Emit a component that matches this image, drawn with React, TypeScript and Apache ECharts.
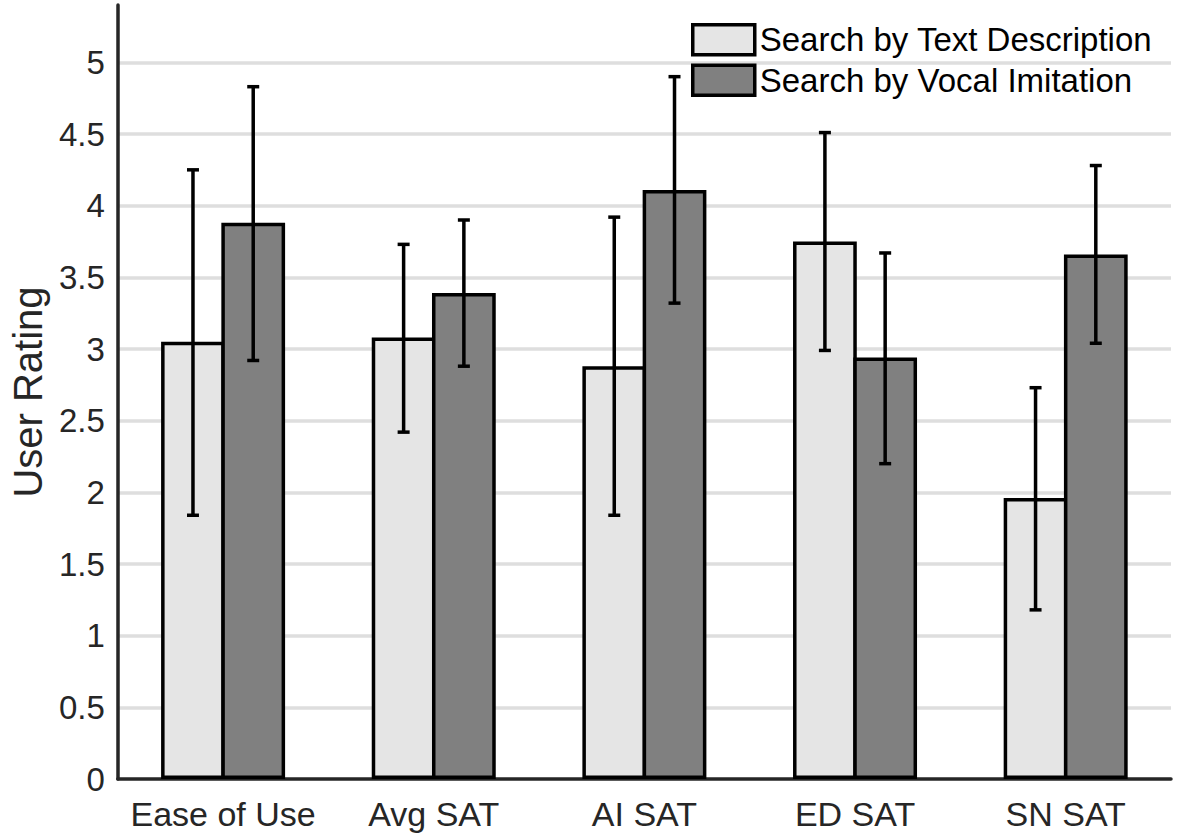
import React, { useEffect, useRef } from "react";
import * as echarts from "echarts";

const categories = ["Ease of Use", "Avg SAT", "AI SAT", "ED SAT", "SN SAT"];
const seriesNames = ["Search by Text Description", "Search by Vocal Imitation"];

const textMeans = [3.05, 3.08, 2.88, 3.75, 1.96];
const textLow = [1.84, 2.42, 1.84, 2.99, 1.18];
const textHigh = [4.25, 3.73, 3.92, 4.51, 2.73];

const vocalMeans = [3.88, 3.39, 4.11, 2.94, 3.66];
const vocalLow = [2.92, 2.88, 3.32, 2.2, 3.04];
const vocalHigh = [4.83, 3.9, 4.9, 3.67, 4.28];

const yTicks = ["0", "0.5", "1", "1.5", "2", "2.5", "3", "3.5", "4", "4.5", "5"];

const BORDER = 3.5;
const BAR_WIDTH = 63.75;
// neighbouring bars share one border line
const BAR_GAP = `${(-BORDER / BAR_WIDTH) * 100}%`;
const BAR_OFFSET = (BAR_WIDTH - BORDER) / 2;
const FONT = "'Liberation Sans', Arial, Helvetica, sans-serif";
const AXIS_COLOR = "#262626";

function errorBarSeries(name: string, low: number[], high: number[], offset: number) {
  return {
    name,
    type: "custom",
    z: 5,
    silent: true,
    data: categories.map((_, i) => [i, low[i], high[i]]),
    renderItem: (_params: any, api: any) => {
      const idx = api.value(0);
      const lo = api.coord([idx, api.value(1)]);
      const hi = api.coord([idx, api.value(2)]);
      const x = lo[0] + offset;
      const cap = 6;
      const style = { stroke: "#000", lineWidth: 3.5, fill: "none" };
      return {
        type: "group",
        children: [
          { type: "line", shape: { x1: x, y1: lo[1], x2: x, y2: hi[1] }, style },
          { type: "line", shape: { x1: x - cap, y1: lo[1], x2: x + cap, y2: lo[1] }, style },
          { type: "line", shape: { x1: x - cap, y1: hi[1], x2: x + cap, y2: hi[1] }, style },
        ],
      };
    },
  };
}

export default function App() {
  const ref = useRef<HTMLDivElement>(null);

  useEffect(() => {
    if (!ref.current) return;
    const chart = echarts.init(ref.current, undefined, { renderer: "svg" });
    chart.setOption({
      animation: false,
      backgroundColor: "#ffffff",
      textStyle: { fontFamily: FONT },
      grid: { left: 116, right: 7, top: 5, bottom: 57, containLabel: false },
      legend: {
        data: seriesNames,
        orient: "vertical",
        left: 691,
        top: 23,
        padding: 0,
        itemWidth: 62,
        itemHeight: 30,
        itemGap: 7,
        icon: "rect",
        itemStyle: { borderColor: "#000", borderWidth: BORDER },
        textStyle: { fontSize: 33, color: "#000", fontFamily: FONT },
      },
      xAxis: {
        type: "category",
        data: categories,
        axisLine: { lineStyle: { color: AXIS_COLOR, width: 3.5 } },
        axisTick: { show: false },
        axisLabel: { interval: 0, fontSize: 34, color: AXIS_COLOR, margin: 18, fontFamily: FONT },
        splitLine: { show: false },
      },
      yAxis: {
        type: "value",
        min: 0,
        max: 5.4,
        interval: 0.5,
        name: "User Rating",
        nameLocation: "middle",
        nameGap: 68,
        nameTextStyle: { fontSize: 40, color: AXIS_COLOR, fontFamily: FONT },
        axisLine: { show: true, lineStyle: { color: AXIS_COLOR, width: 3.5 } },
        axisTick: { show: false },
        axisLabel: {
          fontSize: 33,
          color: AXIS_COLOR,
          margin: 13,
          fontFamily: FONT,
          showMaxLabel: false,
          formatter: (v: number) => {
            const s = String(Math.round(v * 10) / 10);
            return yTicks.includes(s) ? s : "";
          },
        },
        splitLine: {
          show: true,
          showMinLine: false,
          showMaxLine: false,
          lineStyle: { color: "#dedede", width: 3.5 },
        },
      },
      series: [
        {
          name: seriesNames[0],
          type: "bar",
          data: textMeans,
          barWidth: BAR_WIDTH,
          barGap: BAR_GAP,
          z: 2,
          itemStyle: { color: "#e5e5e5", borderColor: "#000", borderWidth: BORDER },
        },
        {
          name: seriesNames[1],
          type: "bar",
          data: vocalMeans,
          barWidth: BAR_WIDTH,
          barGap: BAR_GAP,
          z: 2,
          itemStyle: { color: "#808080", borderColor: "#000", borderWidth: BORDER },
        },
        errorBarSeries("text-error", textLow, textHigh, -BAR_OFFSET),
        errorBarSeries("vocal-error", vocalLow, vocalHigh, BAR_OFFSET),
      ],
    });
    return () => chart.dispose();
  }, []);

  return (
    <div
      ref={ref}
      style={{ position: "absolute", left: 0, top: 0, width: 1178, height: 836 }}
    />
  );
}
